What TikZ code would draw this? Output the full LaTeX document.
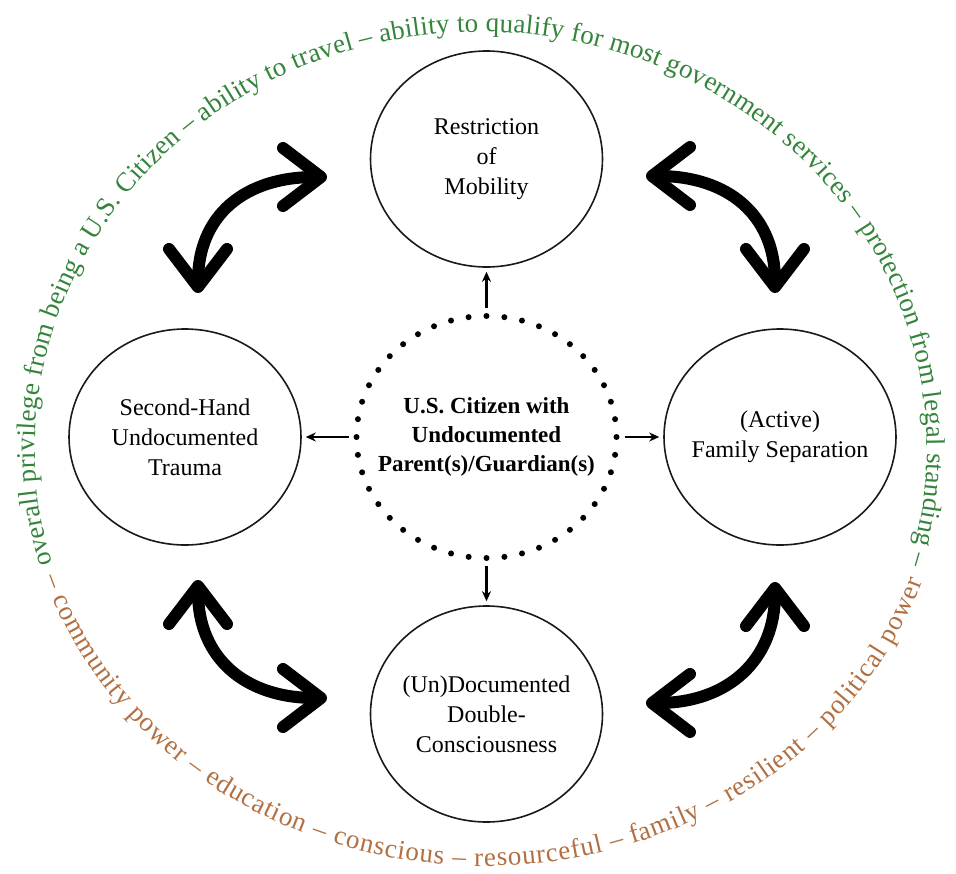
\documentclass[tikz,border=0pt]{standalone}
\usepackage{fontspec}
\setmainfont{Liberation Serif}
\usetikzlibrary{shapes.geometric,arrows.meta,decorations.text,calc}
\definecolor{arcgreen}{RGB}{52,132,60}
\definecolor{arcbrown}{RGB}{178,112,66}
\begin{document}
\begin{tikzpicture}[x=1pt,y=1pt,
  bubble/.style={ellipse, draw=black!90, line width=1.6pt, minimum width=232pt, minimum height=216pt, inner sep=-30pt, align=center, font=\fontsize{24}{30}\selectfont},
  hub/.style={ellipse, draw, line width=6pt, dash pattern=on 0pt off 17.93pt, line cap=round, minimum width=260pt, minimum height=242pt, inner sep=-40pt, align=center, font=\bfseries\fontsize{23}{29}\selectfont},
  link/.style={-{Stealth[length=10pt,width=9pt]}, line width=2.4pt, shorten <=5pt, shorten >=4pt},
  swing/.style={line width=12pt, {Straight Barb[length=38pt,width=58pt,round]}-{Straight Barb[length=38pt,width=58pt,round]}},
  greentext/.style={decorate, decoration={text along path, text align={fit to path}, text={|\fontsize{27}{27}\selectfont\color{arcgreen}|#1}}},
  browntext/.style={decorate, decoration={text along path, text align={fit to path}, text={|\fontsize{27}{27}\selectfont\color{arcbrown}|#1}}},
]
\useasboundingbox (0,0) rectangle (956,-873);

% nodes
\node[hub] (hub) at (486.5,-437) {U.S. Citizen with\\Undocumented\\Parent(s)/Guardian(s)};
\node[bubble] (mob) at (486.5,-159) {Restriction\\of\\Mobility};
\node[bubble] (trauma) at (185,-437) {Second-Hand\\Undocumented\\Trauma};
\node[bubble] (sep) at (780,-437) {(Active)\\Family Separation};
\node[bubble] (dc) at (486.5,-714) {(Un)Documented\\Double-\\Consciousness};

% small arrows
\draw[link] (hub.north) -- (mob.south);
\draw[link] (hub.west) -- (trauma.east);
\draw[link] (hub.east) -- (sep.west);
\draw[link] (hub.south) -- (dc.north);

% big curved double arrows
\coordinate (a1s) at (198,-293); \coordinate (a1e) at (327,-177);
\coordinate (a2s) at (775,-293); \coordinate (a2e) at (646,-176);
\coordinate (a3s) at (198,-580); \coordinate (a3e) at (327,-698);
\coordinate (a4s) at (775,-582); \coordinate (a4e) at (646,-703);
\draw[swing] (a1s) .. controls +(0,78) and +(-82,0) .. (a1e);
\draw[swing] (a2s) .. controls +(0,78) and +(82,0) .. (a2e);
\draw[swing] (a3s) .. controls +(0,-78) and +(-82,0) .. (a3e);
\draw[swing] (a4s) .. controls +(0,-78) and +(82,0) .. (a4e);

% arc texts
\coordinate (O) at (481,-449);
\coordinate (O2) at (484,-449);
\path[greentext={overall privilege from being a U.S. Citizen – ability to travel – ability to qualify for most government services – protection from legal standing –}]
  ($(O)+(196:446pt and 417pt)$) arc[start angle=196, end angle=-16, x radius=446pt, y radius=417pt];
\path[browntext={– community power – education – conscious – resourceful – family – resilient – political power}]
  ($(O2)+(198:462pt and 417pt)$) arc[start angle=198, end angle=341.5, x radius=462pt, y radius=417pt];
\end{tikzpicture}
\end{document}
